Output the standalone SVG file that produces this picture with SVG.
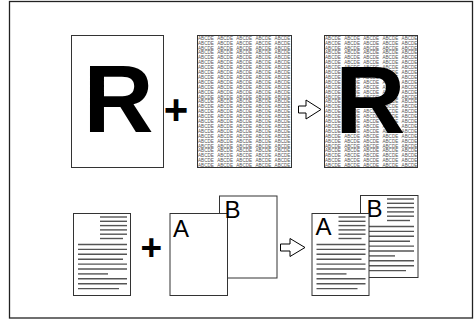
<svg xmlns="http://www.w3.org/2000/svg" xmlns:xlink="http://www.w3.org/1999/xlink" width="474" height="320" viewBox="0 0 474 320">
<style>
.frame{fill:#fff;stroke:#222;stroke-width:1.3}
.page{fill:#fff;stroke:#333;stroke-width:1}
.big{font-family:"Liberation Sans",Arial,sans-serif;font-weight:bold;font-size:97px;fill:#000;text-anchor:middle}
.plus{font-family:"Liberation Sans",Arial,sans-serif;font-weight:bold;fill:#000;text-anchor:middle}
.let{font-family:"Liberation Sans",Arial,sans-serif;font-size:24px;fill:#000}
.abc{font-family:"Liberation Sans",Arial,sans-serif;font-size:4.6px;fill:#555;word-spacing:2.3px}
.ln{stroke:#555;stroke-width:1.4}
.arr{fill:#fff;stroke:#000;stroke-width:1}
</style>
<defs>
<g id="doclines" class="ln">
<line x1="27" y1="4" x2="54" y2="4"/>
<line x1="27" y1="8.3" x2="54" y2="8.3"/>
<line x1="27" y1="12.6" x2="54" y2="12.6"/>
<line x1="27" y1="16.9" x2="54" y2="16.9"/>
<line x1="27" y1="21.2" x2="54" y2="21.2"/>
<line x1="27" y1="25.5" x2="50" y2="25.5"/>
<line x1="5" y1="31.5" x2="54" y2="31.5"/>
<line x1="5" y1="36.4" x2="54" y2="36.4"/>
<line x1="5" y1="41.3" x2="54" y2="41.3"/>
<line x1="5" y1="46.2" x2="50" y2="46.2"/>
<line x1="5" y1="51.1" x2="54" y2="51.1"/>
<line x1="5" y1="56" x2="54" y2="56"/>
<line x1="5" y1="60.9" x2="35" y2="60.9"/>
<line x1="5" y1="65.8" x2="54" y2="65.8"/>
<line x1="5" y1="70.7" x2="54" y2="70.7"/>
<line x1="5" y1="75.6" x2="46" y2="75.6"/>
</g>
</defs>
<rect class="frame" x="9.5" y="1.5" width="463" height="316.5"/>

<g id="page-r">
<rect class="page" x="71.5" y="35.5" width="92" height="132"/>
<text class="big" x="118.6" y="132">R</text>
</g>

<g id="plus-top"><text class="plus" x="176" y="124" font-size="42">+</text></g>

<g id="page-pattern">
<rect class="page" x="197.5" y="35.5" width="94" height="132"/>
<g class="abc">
<text x="198" y="39.7">ABCDE ABCDE ABCDE ABCDE ABCDE</text>
<text x="198" y="44.6">ABCDE ABCDE ABCDE ABCDE ABCDE</text>
<text x="198" y="49.5">ABCDE ABCDE ABCDE ABCDE ABCDE</text>
<text x="198" y="54.4">ABCDE ABCDE ABCDE ABCDE ABCDE</text>
<text x="198" y="59.3">ABCDE ABCDE ABCDE ABCDE ABCDE</text>
<text x="198" y="64.2">ABCDE ABCDE ABCDE ABCDE ABCDE</text>
<text x="198" y="69.1">ABCDE ABCDE ABCDE ABCDE ABCDE</text>
<text x="198" y="74">ABCDE ABCDE ABCDE ABCDE ABCDE</text>
<text x="198" y="78.9">ABCDE ABCDE ABCDE ABCDE ABCDE</text>
<text x="198" y="83.8">ABCDE ABCDE ABCDE ABCDE ABCDE</text>
<text x="198" y="88.7">ABCDE ABCDE ABCDE ABCDE ABCDE</text>
<text x="198" y="93.6">ABCDE ABCDE ABCDE ABCDE ABCDE</text>
<text x="198" y="98.5">ABCDE ABCDE ABCDE ABCDE ABCDE</text>
<text x="198" y="103.4">ABCDE ABCDE ABCDE ABCDE ABCDE</text>
<text x="198" y="108.3">ABCDE ABCDE ABCDE ABCDE ABCDE</text>
<text x="198" y="113.2">ABCDE ABCDE ABCDE ABCDE ABCDE</text>
<text x="198" y="118.1">ABCDE ABCDE ABCDE ABCDE ABCDE</text>
<text x="198" y="123">ABCDE ABCDE ABCDE ABCDE ABCDE</text>
<text x="198" y="127.9">ABCDE ABCDE ABCDE ABCDE ABCDE</text>
<text x="198" y="132.8">ABCDE ABCDE ABCDE ABCDE ABCDE</text>
<text x="198" y="137.7">ABCDE ABCDE ABCDE ABCDE ABCDE</text>
<text x="198" y="142.6">ABCDE ABCDE ABCDE ABCDE ABCDE</text>
<text x="198" y="147.5">ABCDE ABCDE ABCDE ABCDE ABCDE</text>
<text x="198" y="152.4">ABCDE ABCDE ABCDE ABCDE ABCDE</text>
<text x="198" y="157.3">ABCDE ABCDE ABCDE ABCDE ABCDE</text>
<text x="198" y="162.2">ABCDE ABCDE ABCDE ABCDE ABCDE</text>
<text x="198" y="167.1">ABCDE ABCDE ABCDE ABCDE ABCDE</text>
</g>
</g>

<g id="arrow-top"><polygon class="arr" points="298.5,106 306,106 306,100 321,109.5 306,119 306,113 298.5,113"/></g>

<g id="page-result-top">
<rect class="page" x="324.5" y="35.5" width="93" height="132"/>
<g class="abc">
<text x="325" y="39.7">ABCDE ABCDE ABCDE ABCDE ABCDE</text>
<text x="325" y="44.6">ABCDE ABCDE ABCDE ABCDE ABCDE</text>
<text x="325" y="49.5">ABCDE ABCDE ABCDE ABCDE ABCDE</text>
<text x="325" y="54.4">ABCDE ABCDE ABCDE ABCDE ABCDE</text>
<text x="325" y="59.3">ABCDE ABCDE ABCDE ABCDE ABCDE</text>
<text x="325" y="64.2">ABCDE ABCDE ABCDE ABCDE ABCDE</text>
<text x="325" y="69.1">ABCDE ABCDE ABCDE ABCDE ABCDE</text>
<text x="325" y="74">ABCDE ABCDE ABCDE ABCDE ABCDE</text>
<text x="325" y="78.9">ABCDE ABCDE ABCDE ABCDE ABCDE</text>
<text x="325" y="83.8">ABCDE ABCDE ABCDE ABCDE ABCDE</text>
<text x="325" y="88.7">ABCDE ABCDE ABCDE ABCDE ABCDE</text>
<text x="325" y="93.6">ABCDE ABCDE ABCDE ABCDE ABCDE</text>
<text x="325" y="98.5">ABCDE ABCDE ABCDE ABCDE ABCDE</text>
<text x="325" y="103.4">ABCDE ABCDE ABCDE ABCDE ABCDE</text>
<text x="325" y="108.3">ABCDE ABCDE ABCDE ABCDE ABCDE</text>
<text x="325" y="113.2">ABCDE ABCDE ABCDE ABCDE ABCDE</text>
<text x="325" y="118.1">ABCDE ABCDE ABCDE ABCDE ABCDE</text>
<text x="325" y="123">ABCDE ABCDE ABCDE ABCDE ABCDE</text>
<text x="325" y="127.9">ABCDE ABCDE ABCDE ABCDE ABCDE</text>
<text x="325" y="132.8">ABCDE ABCDE ABCDE ABCDE ABCDE</text>
<text x="325" y="137.7">ABCDE ABCDE ABCDE ABCDE ABCDE</text>
<text x="325" y="142.6">ABCDE ABCDE ABCDE ABCDE ABCDE</text>
<text x="325" y="147.5">ABCDE ABCDE ABCDE ABCDE ABCDE</text>
<text x="325" y="152.4">ABCDE ABCDE ABCDE ABCDE ABCDE</text>
<text x="325" y="157.3">ABCDE ABCDE ABCDE ABCDE ABCDE</text>
<text x="325" y="162.2">ABCDE ABCDE ABCDE ABCDE ABCDE</text>
<text x="325" y="167.1">ABCDE ABCDE ABCDE ABCDE ABCDE</text>
</g>
<text class="big" x="370.4" y="133.3">R</text>
</g>

<g id="page-doc">
<rect class="page" x="73.5" y="213.5" width="57" height="82"/>
<use xlink:href="#doclines" transform="translate(73 213)"/>
</g>

<g id="plus-bottom"><text class="plus" x="151.3" y="260" font-size="37">+</text></g>

<g id="pages-ab">
<rect class="page" x="219.5" y="196" width="57.5" height="82"/>
<rect class="page" x="170" y="213.5" width="57.5" height="82"/>
<text class="let" x="173" y="236.5">A</text>
<text class="let" x="224.5" y="218">B</text>
</g>

<g id="arrow-bottom"><polygon class="arr" points="280.5,244 290,244 290,238.5 305,247.5 290,256.5 290,251 280.5,251"/></g>

<g id="pages-result-bottom">
<rect class="page" x="360.5" y="195.5" width="57.5" height="82"/>
<use xlink:href="#doclines" transform="translate(360 195)"/>
<text class="let" x="366.5" y="216.7">B</text>
<rect class="page" x="312" y="213.5" width="57" height="82"/>
<use xlink:href="#doclines" transform="translate(311.5 213)"/>
<text class="let" x="315.5" y="235">A</text>
</g>
</svg>
